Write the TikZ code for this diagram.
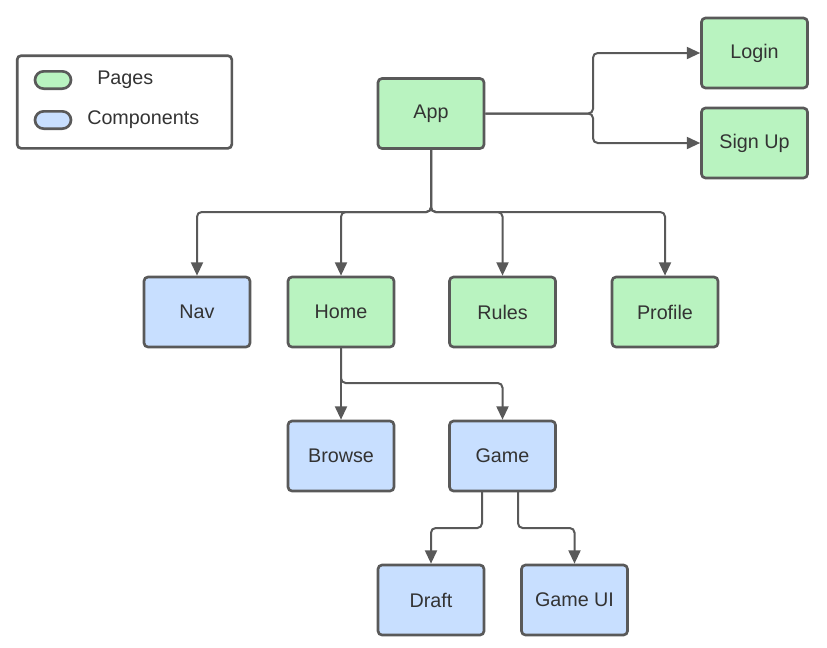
\documentclass[tikz,border=0pt]{standalone}
\usepackage{fontspec}
\setmainfont{Liberation Sans}
\usetikzlibrary{arrows.meta,calc}
\definecolor{pagefill}{HTML}{B9F3C0}
\definecolor{compfill}{HTML}{C8DFFF}
\definecolor{edge}{HTML}{595959}
\definecolor{txt}{HTML}{333333}
\begin{document}
\begin{tikzpicture}[x=0.75pt,y=-0.75pt,
  box/.style={draw=edge,line width=2pt,rounded corners=3pt,minimum width=79.5pt,minimum height=52.5pt,inner sep=0pt,font=\fontsize{14.8}{17}\selectfont,text=txt},
  page/.style={box,fill=pagefill},
  comp/.style={box,fill=compfill},
  conn/.style={draw=edge,line width=1.5pt,rounded corners=3.5pt,-{Triangle[length=10pt,width=9pt]}},
  pill/.style={draw=edge,line width=2pt,rounded corners=6.5pt,minimum width=27pt,minimum height=13pt,inner sep=0pt}]
\useasboundingbox (0,0) rectangle (827,647);
% legend
\node[draw=edge,line width=2pt,rounded corners=3pt,minimum width=161pt,minimum height=69.5pt,inner sep=0pt] (legend) at (124.5,102) {};
\node[pill,fill=pagefill] (lp) at (53,80) {};
\node[pill,fill=compfill] (lc) at (53,120) {};
\node[anchor=west,font=\fontsize{14.8}{17}\selectfont,text=txt,inner sep=0pt] (lpt) at (97,80) {Pages};
\node[anchor=west,font=\fontsize{14.8}{17}\selectfont,text=txt,inner sep=0pt] (lct) at (87,120) {Components};
% nodes
\node[page] (App) at (431,113.5) {App};
\node[page] (Login) at (754.5,53) {Login};
\node[page] (SignUp) at (754.5,143) {Sign Up};
\node[comp] (Nav) at (197,312) {Nav};
\node[page] (Home) at (341,312) {Home};
\node[page] (Rules) at (502.5,312) {Rules};
\node[page] (Profile) at (665,312) {Profile};
\node[comp] (Browse) at (341,456) {Browse};
\node[comp] (Game) at (502.5,456) {Game};
\node[comp] (Draft) at (431,600) {Draft};
\node[comp] (GameUI) at (574.5,600) {Game UI};
% junctions
\coordinate (ja) at (593,113.5);
\coordinate (bus) at (431,212);
\coordinate (hj) at (341,383);
\coordinate (gl) at (482,492);
\coordinate (gr) at (518,492);
% connectors
\draw[conn] (App.east) -- (ja) |- (Login.west);
\draw[conn] (App.east) -- (ja) |- (SignUp.west);
\draw[conn] (App.south) -- (bus) -| (Nav.north);
\draw[conn] (App.south) -- (bus) -| (Home.north);
\draw[conn] (App.south) -- (bus) -| (Rules.north);
\draw[conn] (App.south) -- (bus) -| (Profile.north);
\draw[conn] (Home.south) -- (Browse.north);
\draw[conn] (Home.south) -- (hj) -| (Game.north);
\draw[conn] (gl) -- ++(0,36) -| (Draft.north);
\draw[conn] (gr) -- ++(0,36) -| (GameUI.north);
\end{tikzpicture}
\end{document}
